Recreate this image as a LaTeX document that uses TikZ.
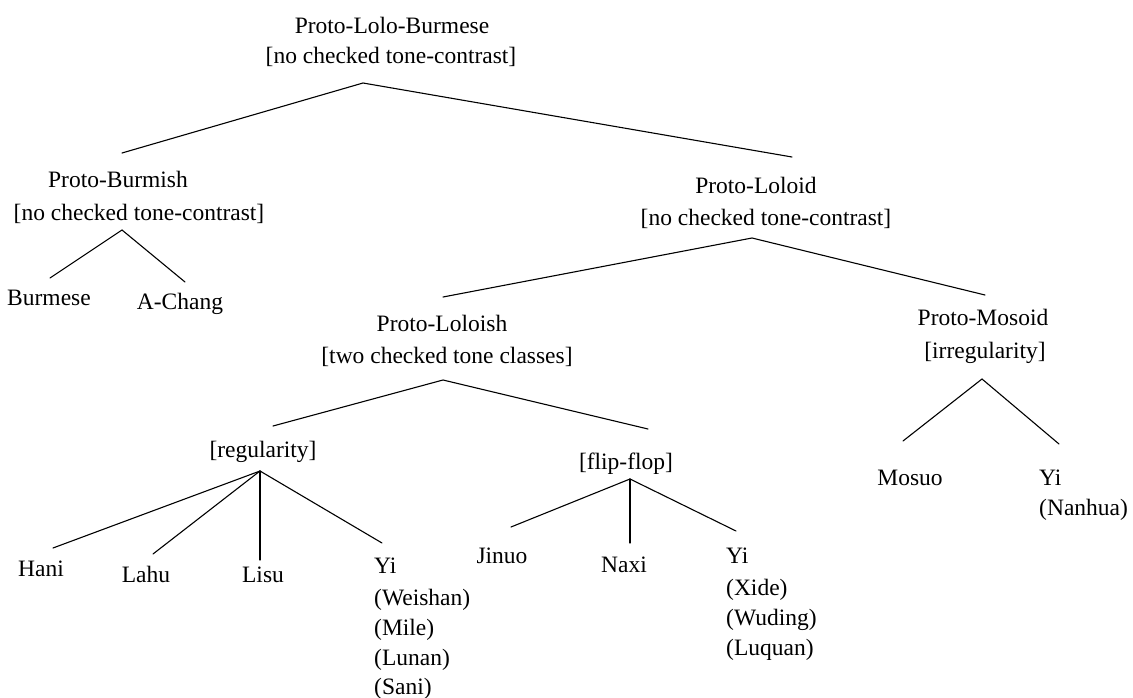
\documentclass[tikz,border=0pt]{standalone}
\usepackage{fontspec}
\setmainfont{Liberation Serif}
\begin{document}
\begin{tikzpicture}[x=1pt,y=-1pt,
  lbl/.style={inner sep=0pt, text height=17pt, text depth=5pt, yshift=-2.5pt,
              font=\fontsize{23.5}{30}\selectfont},
  lft/.style={lbl, anchor=west},
  branch/.style={line width=1.1pt, line cap=round}]
\useasboundingbox (0,0) rectangle (1133,698);

% ---- labels ----
\node[lbl] (plbA) at (392,25) {Proto-Lolo-Burmese};
\node[lbl] (plbB) at (391,55) {[no checked tone-contrast]};

\node[lbl] (pbA) at (118,179) {Proto-Burmish};
\node[lbl] (pbB) at (139,212) {[no checked tone-contrast]};
\node[lbl] (burmese) at (49,297) {Burmese};
\node[lbl] (achang) at (180,301) {A-Chang};

\node[lbl] (plA) at (756,185) {Proto-Loloid};
\node[lbl] (plB) at (766,217) {[no checked tone-contrast]};

\node[lbl] (plsA) at (442,323) {Proto-Loloish};
\node[lbl] (plsB) at (447,355) {[two checked tone classes]};

\node[lbl] (pmA) at (983,317) {Proto-Mosoid};
\node[lbl] (pmB) at (985,350) {[irregularity]};
\node[lbl] (mosuo) at (910,477) {Mosuo};
\node[lft] (yinA) at (1039,477) {Yi};
\node[lft] (yinB) at (1039,507) {(Nanhua)};

\node[lbl] (reg) at (263,449) {[regularity]};
\node[lbl] (hani) at (41,568) {Hani};
\node[lbl] (lahu) at (146,574) {Lahu};
\node[lbl] (lisu) at (263,574) {Lisu};
\node[lft] (yiwA) at (374,565) {Yi};
\node[lft] (yiwB) at (374,597) {(Weishan)};
\node[lft] (yiwC) at (374,627) {(Mile)};
\node[lft] (yiwD) at (374,657) {(Lunan)};
\node[lft] (yiwE) at (374,686) {(Sani)};

\node[lbl] (flip) at (626,461) {[flip-flop]};
\node[lbl] (jinuo) at (502,555) {Jinuo};
\node[lbl] (naxi) at (624,564) {Naxi};
\node[lft] (yixA) at (726,555) {Yi};
\node[lft] (yixB) at (726,587) {(Xide)};
\node[lft] (yixC) at (726,617) {(Wuding)};
\node[lft] (yixD) at (726,647) {(Luquan)};

% ---- branch points ----
\coordinate (rootTop) at (363,83);
\coordinate (rootL) at (122,153);
\coordinate (rootR) at (792,157);

\coordinate (bmTop) at (122,230);
\coordinate (bmL) at (50,278);
\coordinate (bmR) at (185,282);

\coordinate (ldTop) at (752,238);
\coordinate (ldL) at (443,297);
\coordinate (ldR) at (985,295);

\coordinate (lsTop) at (443,380);
\coordinate (lsL) at (273,426);
\coordinate (lsR) at (648,429);

\coordinate (msTop) at (982,379);
\coordinate (msL) at (903,441);
\coordinate (msR) at (1059,444);

\coordinate (rgTop) at (260,471);
\coordinate (rgHani) at (53,548);
\coordinate (rgLahu) at (153,554);
\coordinate (rgLisu) at (260,560);
\coordinate (rgYi) at (382,543);

\coordinate (ffTop) at (630,479);
\coordinate (ffJinuo) at (511,527);
\coordinate (ffNaxi) at (630,543);
\coordinate (ffYi) at (736,531);

% ---- branches ----
\draw[branch] (rootL) -- (rootTop) -- (rootR);
\draw[branch] (bmL) -- (bmTop) -- (bmR);
\draw[branch] (ldL) -- (ldTop) -- (ldR);
\draw[branch] (lsL) -- (lsTop) -- (lsR);
\draw[branch] (msL) -- (msTop) -- (msR);
\draw[branch] (rgTop) -- (rgHani);
\draw[branch] (rgTop) -- (rgLahu);
\draw[branch] (rgTop) -- (rgLisu);
\draw[branch] (rgTop) -- (rgYi);
\draw[branch] (ffTop) -- (ffJinuo);
\draw[branch] (ffTop) -- (ffNaxi);
\draw[branch] (ffTop) -- (ffYi);
\end{tikzpicture}
\end{document}
